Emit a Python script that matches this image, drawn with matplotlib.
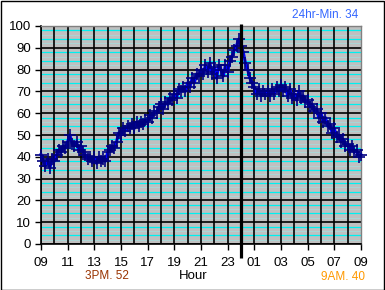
import matplotlib
matplotlib.use("Agg")
import matplotlib.pyplot as plt
from matplotlib.patches import Rectangle

plt.rcParams['font.family'] = ['Liberation Sans', 'DejaVu Sans']

# temperature readings every 10 minutes from 09:00 to 09:00 next day
temps = [
    41, 38, 36, 39, 35, 39,   # 09
    38, 41, 43, 42, 45, 44,   # 10
    47, 50, 46, 45, 47, 43,   # 11
    45, 42, 41, 39, 40, 38,   # 12
    40, 37, 40, 38, 39, 38,   # 13
    42, 43, 45, 44, 47, 51,   # 14
    50, 53, 52, 54, 53, 55,   # 15
    53, 56, 54, 56, 55, 57,   # 16
    56, 59, 58, 61, 60, 63,   # 17
    64, 62, 65, 64, 67, 66,   # 18
    69, 67, 71, 70, 72, 70,   # 19
    74, 72, 76, 74, 78, 77,   # 20
    80, 78, 82, 79, 83, 78,   # 21
    81, 76, 82, 80, 77, 82,   # 22
    79, 84, 86, 89, 91, 94,   # 23
    91, 88, 83, 80, 76, 74,   # 00
    72, 69, 71, 68, 70, 69,   # 01
    70, 68, 71, 69, 72, 70,   # 02
    73, 70, 72, 68, 71, 67,   # 03
    69, 66, 70, 67, 68, 65,   # 04
    66, 63, 64, 61, 62, 58,   # 05
    60, 56, 58, 54, 55, 51,   # 06
    53, 49, 50, 47, 48, 45,   # 07
    46, 43, 45, 42, 43, 40,   # 08
    41,                       # 09
]
hours = [i / 6 for i in range(len(temps))]  # hours since 09:00

tick_labels = ["09", "11", "13", "15", "17", "19", "21", "23",
               "01", "03", "05", "07", "09"]
y_ticks = [0, 10, 20, 30, 40, 50, 60, 70, 80, 90, 100]
min_text = "24hr-Min. 34"
pm_text = "3PM. 52"
am_text = "9AM. 40"

W, H = 385, 290
fig = plt.figure(figsize=(W / 100, H / 100), dpi=100)
fig.patch.set_facecolor("white")
ax = fig.add_axes([41 / W, (H - 244) / H, 320 / W, 218 / H])
ax.set_facecolor("#c0c0c0")
ax.set_xlim(0, 24)
ax.set_ylim(0, 100)

# minor horizontal lines
for v in range(0, 100, 2):
    if v % 10 == 0:
        continue
    if v % 10 in (8, 4):
        ax.axhline(v, color="#00f0f0", lw=0.9, zorder=1)
    else:
        ax.axhline(v, color="#a8dada", lw=0.6, zorder=1)
# major horizontal lines
for v in y_ticks[:-1]:
    ax.axhline(v, color="black", lw=1.2, zorder=2)
# vertical hour lines
for h in range(0, 24):
    ax.axvline(h, color="black", lw=1.2, zorder=2)

ax.plot(hours, temps, color="#0000ff", lw=2.2, marker="+", ms=8,
        mec="#000080", mew=1.2, zorder=4, clip_on=False)

# midnight marker
ax.plot([15, 15], [100.9, -6.4], color="black", lw=2.3, zorder=5,
        clip_on=False, solid_capstyle="butt")

for s in ("top", "right"):
    ax.spines[s].set_color("#808080")
    ax.spines[s].set_linewidth(1.0)
for s in ("left", "bottom"):
    ax.spines[s].set_color("black")
    ax.spines[s].set_linewidth(1.2)

ax.set_xticks(range(0, 25, 2))
ax.set_xticklabels(tick_labels)
ax.set_yticks(y_ticks)
ax.set_yticklabels([str(v) for v in y_ticks])
ax.tick_params(axis="both", length=4, width=1.0, color="black",
               labelsize=9.5, pad=3)
ax.tick_params(axis="x", pad=5)

fig.text(193 / W, 1 - 276 / H, "Hour", ha="center", va="center",
         fontsize=9.5, color="black")
fig.text(107 / W, 1 - 276 / H, pm_text, ha="center", va="center",
         fontsize=8.5, color="#993300")
fig.text(365 / W, 1 - 277 / H, am_text, ha="right", va="center",
         fontsize=8.5, color="#ff9900")
fig.text(358 / W, 1 - 15 / H, min_text, ha="right", va="center",
         fontsize=8.5, color="#3366ff")

fig.patches.append(Rectangle((0.5 / W, 0.5 / H), (W - 1.5) / W, (H - 1.5) / H,
                             transform=fig.transFigure, fill=False,
                             edgecolor="black", lw=1.0))

fig.savefig("out.png", dpi=100, facecolor="white")
